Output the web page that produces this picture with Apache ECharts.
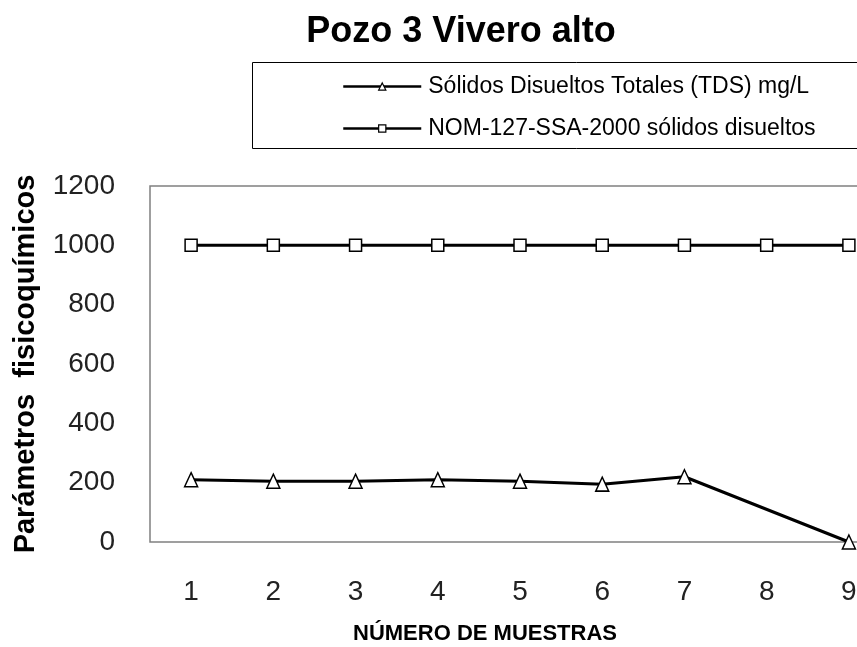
<!DOCTYPE html>
<html><head><meta charset="utf-8">
<script src="https://cdn.jsdelivr.net/npm/echarts@6/dist/echarts.min.js"></script>
<style>html,body{margin:0;padding:0;background:#fff;overflow:hidden}#c{width:900px;height:647px}</style>
</head><body><div id="c"></div>
<script>
var categories = ['1','2','3','4','5','6','7','8','9'];
var tdsValues = [210, 205, 205, 210, 205, 195, 220, null, 0];
var nomValues = [1000, 1000, 1000, 1000, 1000, 1000, 1000, 1000, 1000];
var seriesNames = ['Sólidos Disueltos Totales (TDS) mg/L', 'NOM-127-SSA-2000 sólidos disueltos'];
var yTicks = {min: 0, max: 1200, interval: 200};

var chart = echarts.init(document.getElementById('c'));
var font = 'Liberation Sans';
chart.setOption({
  animation: false,
  backgroundColor: '#fff',
  title: {
    text: 'Pozo 3 Vivero alto', left: 456, top: 9, textAlign: 'center',
    textStyle: {fontFamily: font, fontSize: 36, fontWeight: 'bold', color: '#000'}
  },
  graphic: [{
    type: 'rect', shape: {x: 252.5, y: 62.5, width: 700, height: 86},
    style: {fill: 'none', stroke: '#000', lineWidth: 1}
  }],
  legend: {
    orient: 'vertical', left: 337, top: 70, itemWidth: 78, itemHeight: 9, itemGap: 19,
    itemStyle: {color: '#fff', borderColor: '#000', borderWidth: 1.2},
    lineStyle: {width: 2.5, color: '#000'},
    textStyle: {fontFamily: font, fontSize: 23, color: '#000', padding: [0, 0, 0, 2]},
    data: seriesNames
  },
  grid: {left: 150, top: 186, width: 740, height: 356, show: true, borderColor: '#808080', borderWidth: 1.5, containLabel: false, outerBoundsMode: 'none'},
  xAxis: {
    type: 'category', data: categories, boundaryGap: true,
    name: 'NÚMERO DE MUESTRAS', nameLocation: 'middle', nameGap: 81,
    nameTextStyle: {fontFamily: font, fontSize: 22, fontWeight: 'bold', color: '#000', align: 'center', padding: [0, 70, 0, 0]},
    axisLine: {show: false}, axisTick: {show: false},
    axisLabel: {fontFamily: font, fontSize: 28, color: '#222', margin: 36}
  },
  yAxis: {
    type: 'value', min: yTicks.min, max: yTicks.max, interval: yTicks.interval,
    name: 'Parámetros  fisicoquímicos', nameLocation: 'middle', nameGap: 110, nameRotate: 90,
    nameTextStyle: {fontFamily: font, fontSize: 29, fontWeight: 'bold', color: '#000'},
    axisLine: {show: false}, axisTick: {show: false}, splitLine: {show: false},
    axisLabel: {fontFamily: font, fontSize: 28, color: '#222', margin: 35, formatter: function (v) { return String(v); }}
  },
  series: [{
    name: seriesNames[0], type: 'line', data: tdsValues, connectNulls: true,
    symbol: 'triangle', symbolSize: [13, 14], showAllSymbol: true,
    lineStyle: {color: '#000', width: 3},
    itemStyle: {color: '#fff', borderColor: '#000', borderWidth: 1.5}
  }, {
    name: seriesNames[1], type: 'line', data: nomValues,
    symbol: 'rect', symbolSize: 12, showAllSymbol: true,
    lineStyle: {color: '#000', width: 3},
    itemStyle: {color: '#fff', borderColor: '#000', borderWidth: 1.5}
  }]
});
</script></body></html>
